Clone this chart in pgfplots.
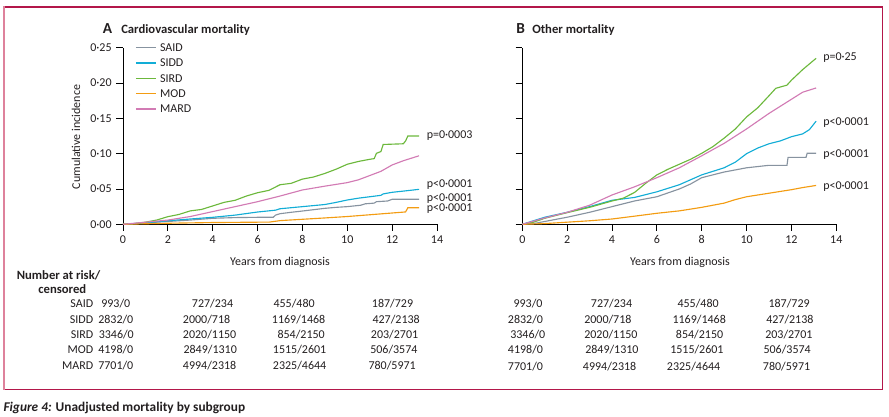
\documentclass[border=0pt]{standalone}
\usepackage{fontspec}
\setmainfont{Carlito}
\usepackage{pgfplots}
\pgfplotsset{compat=1.18}
\definecolor{cSAID}{HTML}{8793A0}
\definecolor{cSIDD}{HTML}{12ADD6}
\definecolor{cSIRD}{HTML}{6CB83C}
\definecolor{cMOD}{HTML}{F39C12}
\definecolor{cMARD}{HTML}{D27BB4}
\definecolor{txt}{HTML}{231F20}
\definecolor{frame}{HTML}{B3174A}
\definecolor{frameL}{HTML}{DE829C}
\newcommand{\fs}{\fontsize{9}{10.8}\selectfont}
\newcommand{\fb}{\bfseries\fontsize{9.5}{11.4}\selectfont}
\pgfplotsset{km/.style={
  scale only axis, width=235.5pt, height=132.45pt,
  xmin=0, xmax=14, ymin=0, ymax=0.25,
  axis lines*=left, axis line style={line width=0.7pt, black},
  tick align=outside, major tick length=5pt,
  tick style={line width=0.7pt, black},
  xtick={0,2,4,6,8,10,12,14}, xticklabels={0,2,4,6,8,10,12,14},
  ytick={0,0.05,0.1,0.15,0.2,0.25},
  tick label style={font=\fs, text=txt},
  clip=false,
  every axis plot/.append style={line width=0.85pt, mark=none},
  anchor=south west,
}}
\begin{document}
\begin{tikzpicture}
\begin{scope}[x=0.75pt,y=-0.75pt]
\useasboundingbox (0,0) rectangle (889,417);
\end{scope}

\begin{axis}[km, at={(92.25pt,-168.225pt)},
  yticklabels={0·00,0·05,0·10,0·15,0·20,0·25},
  legend style={at={(axis cs:0.535,0.25)}, anchor=north west, yshift=6pt,
    draw=none, fill=none, font=\fs, text=txt, inner sep=0pt,
    nodes={inner sep=2.75pt, text height=6pt, text depth=0pt}},
  legend cell align=left,
  legend image code/.code={\draw[#1] (0pt,0pt) -- (15pt,0pt);}]
\addplot[color=cSAID] coordinates {(0,0) (1,0.002) (2,0.004) (3,0.006) (4,0.0085) (5,0.0095) (6,0.0099) (6.7,0.0100) (6.8,0.013) (7,0.015) (7.5,0.017) (8,0.0188) (9,0.0226) (9.5,0.024) (10,0.025) (10.6,0.027) (10.8,0.029) (11.2,0.030) (11.3,0.032) (11.8,0.033) (12,0.0354) (13.2,0.0354)};
\addlegendentry{SAID}
\addplot[color=cSIDD] coordinates {(0,0) (1,0.002) (2,0.005) (3,0.0075) (4,0.0099) (5,0.013) (6,0.0174) (6.8,0.020) (7,0.022) (8,0.025) (9,0.028) (9.5,0.031) (10,0.0344) (10.5,0.037) (11,0.039) (11.5,0.041) (11.6,0.043) (12,0.0453) (12.5,0.047) (13.2,0.0495)};
\addlegendentry{SIDD}
\addplot[color=cSIRD] coordinates {(0,0) (0.5,0.001) (1,0.003) (1.5,0.006) (2,0.0108) (2.5,0.014) (3,0.019) (3.5,0.021) (4,0.026) (4.5,0.031) (5,0.034) (5.5,0.040) (6,0.0447) (6.5,0.048) (7,0.056) (7.5,0.058) (8,0.064) (8.5,0.067) (9,0.072) (9.5,0.078) (10,0.085) (10.5,0.089) (11,0.092) (11.2,0.093) (11.3,0.1005) (11.5,0.103) (11.6,0.113) (12.5,0.114) (12.6,0.118) (12.7,0.125) (13.2,0.125)};
\addlegendentry{SIRD}
\addplot[color=cMOD] coordinates {(0,0) (2,0.0015) (4,0.0025) (6,0.003) (6.5,0.003) (7,0.0052) (8,0.0071) (9,0.009) (10,0.011) (11,0.0135) (12,0.016) (12.6,0.0175) (12.7,0.0235) (13.2,0.0235)};
\addlegendentry{MOD}
\addplot[color=cMARD] coordinates {(0,0) (1,0.003) (2,0.006) (3,0.011) (4,0.018) (5,0.025) (6,0.032) (7,0.040) (8,0.0486) (9,0.054) (10,0.059) (10.5,0.063) (11,0.069) (11.5,0.075) (12,0.084) (12.5,0.090) (13.2,0.097)};
\addlegendentry{MARD}
\end{axis}

\begin{axis}[km, at={(391.725pt,-168.225pt)}, yticklabels={}]
\addplot[color=cSAID] coordinates {(0,0) (0.5,0.001) (1,0.004) (2,0.010) (3,0.017) (4,0.025) (5,0.033) (6,0.039) (7,0.050) (7.5,0.057) (8,0.066) (9,0.074) (10,0.080) (11,0.0835) (11.8,0.0835) (11.85,0.0948) (12.65,0.0948) (12.7,0.1005) (13.1,0.1005)};
\addplot[color=cSIDD] coordinates {(0,0) (0.5,0.005) (1,0.010) (2,0.017) (3,0.025) (4,0.034) (5,0.038) (6,0.046) (7,0.056) (8,0.070) (9,0.080) (9.5,0.088) (10,0.100) (10.5,0.108) (11,0.114) (11.5,0.118) (12,0.124) (12.5,0.128) (12.8,0.134) (13.1,0.146)};
\addplot[color=cSIRD] coordinates {(0,0) (0.5,0.003) (1,0.0085) (2,0.0165) (3,0.024) (4,0.033) (4.5,0.037) (5,0.045) (5.5,0.058) (6,0.070) (6.5,0.078) (7,0.085) (7.5,0.092) (8,0.1005) (8.5,0.110) (9,0.122) (9.5,0.135) (10,0.152) (10.5,0.165) (11,0.182) (11.3,0.1925) (11.8,0.197) (12,0.204) (12.5,0.219) (13.1,0.235)};
\addplot[color=cMOD] coordinates {(0,0) (1,0.001) (2,0.003) (3,0.005) (4,0.0075) (5,0.0115) (6,0.0156) (7,0.019) (8,0.024) (8.5,0.027) (9,0.030) (9.5,0.035) (10,0.039) (11,0.044) (12,0.049) (12.5,0.052) (13.1,0.055)};
\addplot[color=cMARD] coordinates {(0,0) (1,0.009) (2,0.017) (3,0.027) (4,0.0415) (5,0.053) (6,0.066) (7,0.080) (8,0.097) (9,0.1146) (10,0.135) (11,0.157) (12,0.177) (12.5,0.187) (13.1,0.193)};
\end{axis}

\begin{scope}[x=0.75pt,y=-0.75pt, every node/.style={text=txt, font=\fs, inner sep=0pt}]
% frame
\draw[frame, line width=0.9pt] (4,7) -- (882.5,7) -- (882.5,389.5) -- (4,389.5);
\draw[frameL, line width=1.6pt] (4,6.4) -- (4,390);
% titles
\node[anchor=base west, font=\bfseries\fontsize{11.5}{13}\selectfont] at (102.5,33.3) {A};
\node[anchor=base west, font=\fb] at (121,33.3) {Cardiovascular mortality};
\node[anchor=base west, font=\bfseries\fontsize{11.5}{13}\selectfont] at (516,33.3) {B};
\node[anchor=base west, font=\fb] at (532,33.3) {Other mortality};
% axis labels
\node[rotate=90] at (76,137) {Cumulative incidence};
\node at (280,262.5) {Years from diagnosis};
\node at (680,262.5) {Years from diagnosis};
% p-values
\node[anchor=base west] at (426.5,138.3) {p=0·0003};
\node[anchor=base west] at (426.5,187.3) {p<0·0001};
\node[anchor=base west] at (426.5,201.3) {p<0·0001};
\node[anchor=base west] at (426.5,211.3) {p<0·0001};
\node[anchor=base west] at (823,60.7) {p=0·25};
\node[anchor=base west] at (823,126) {p<0·0001};
\node[anchor=base west] at (823,157.3) {p<0·0001};
\node[anchor=base west] at (823,189.7) {p<0·0001};
% number at risk
\node[anchor=base west, font=\fb] at (16.5,279.5) {Number at risk/};
\node[anchor=base east, font=\fb] at (86.5,293) {censored};
\node[anchor=base east] at (93.5,307.3) {SAID};
\node[anchor=base east] at (93.5,323) {SIDD};
\node[anchor=base east] at (93.5,338.3) {SIRD};
\node[anchor=base east] at (93.5,353.3) {MOD};
\node[anchor=base east] at (93.5,369.3) {MARD};
% left table
\node[anchor=base west] at (101,307.3) {993/0};
\node[anchor=base west] at (191.7,307.3) {727/234};
\node[anchor=base west] at (273.3,307.3) {455/480};
\node[anchor=base west] at (371.7,307.3) {187/729};
\node[anchor=base west] at (98,323) {2832/0};
\node[anchor=base west] at (182.7,323) {2000/718};
\node[anchor=base west] at (271.7,323) {1169/1468};
\node[anchor=base west] at (372.3,323) {427/2138};
\node[anchor=base west] at (98.5,338.3) {3346/0};
\node[anchor=base west] at (182.7,338.3) {2020/1150};
\node[anchor=base west] at (277.3,338.3) {854/2150};
\node[anchor=base west] at (370.7,338.3) {203/2701};
\node[anchor=base west] at (98,353.3) {4198/0};
\node[anchor=base west] at (183.3,353.3) {2849/1310};
\node[anchor=base west] at (272.7,353.3) {1515/2601};
\node[anchor=base west] at (370,353.3) {506/3574};
\node[anchor=base west] at (98,369.3) {7701/0};
\node[anchor=base west] at (182.7,369.3) {4994/2318};
\node[anchor=base west] at (272.7,369.3) {2325/4644};
\node[anchor=base west] at (368.3,369.3) {780/5971};
% right table
\node[anchor=base west] at (513.3,307.3) {993/0};
\node[anchor=base west] at (590.7,307.3) {727/234};
\node[anchor=base west] at (677.3,307.3) {455/480};
\node[anchor=base west] at (768.3,307.3) {187/729};
\node[anchor=base west] at (507.7,323) {2832/0};
\node[anchor=base west] at (584,323) {2000/718};
\node[anchor=base west] at (672.3,323) {1169/1468};
\node[anchor=base west] at (766,323) {427/2138};
\node[anchor=base west] at (510,338.3) {3346/0};
\node[anchor=base west] at (584,338.3) {2020/1150};
\node[anchor=base west] at (675.7,338.3) {854/2150};
\node[anchor=base west] at (765,338.3) {203/2701};
\node[anchor=base west] at (507.7,353.3) {4198/0};
\node[anchor=base west] at (585,353.3) {2849/1310};
\node[anchor=base west] at (670,353.3) {1515/2601};
\node[anchor=base west] at (763.3,353.3) {506/3574};
\node[anchor=base west] at (507.7,370) {7701/0};
\node[anchor=base west] at (582.7,370) {4994/2318};
\node[anchor=base west] at (666.7,370) {2325/4644};
\node[anchor=base west] at (762.7,370) {780/5971};
% caption
\node[anchor=base west, font=\bfseries\fontsize{10}{12}\selectfont] at (3.3,411) {\textit{Figure 4:} Unadjusted mortality by subgroup};
\end{scope}
\end{tikzpicture}
\end{document}
